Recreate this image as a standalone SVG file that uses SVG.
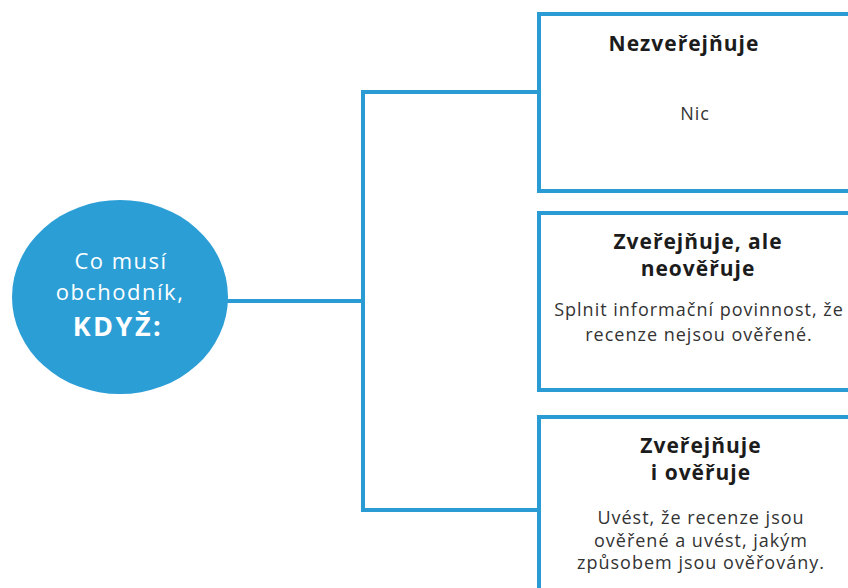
<svg xmlns="http://www.w3.org/2000/svg" width="848" height="588" viewBox="0 0 848 588">
<style>
.box{fill:#ffffff;stroke:#2b9bd3;stroke-width:4}
.conn{fill:none;stroke:#2b9bd3;stroke-width:4}
.t{font-family:"Open Sans","Noto Sans",sans-serif;font-weight:700;font-size:21px;letter-spacing:1px;fill:#1c1c1c;text-anchor:middle}
.b{font-family:"Open Sans","Noto Sans",sans-serif;font-size:18px;letter-spacing:1px;fill:#333333;text-anchor:middle}
.c{font-family:"Open Sans","Noto Sans",sans-serif;font-size:22px;letter-spacing:1.5px;fill:#ffffff;text-anchor:middle}
.k{font-family:"Open Sans","Noto Sans",sans-serif;font-weight:700;font-size:27px;letter-spacing:2.5px;fill:#ffffff;text-anchor:middle}
</style>
<rect width="848" height="588" fill="#ffffff"/>
<g id="connectors">
<path class="conn" d="M226 301 H363"/>
<path class="conn" d="M539 92 H363 V510 H539"/>
</g>
<g id="center">
<ellipse cx="120" cy="297" rx="108" ry="97" fill="#2b9ed6"/>
<text class="c" x="121" y="269">Co musí</text>
<text class="c" x="120" y="300">obchodník,</text>
<text class="k" x="118" y="336">KDYŽ:</text>
</g>
<g id="box1">
<rect class="box" x="539" y="14" width="320" height="177"/>
<text class="t" x="684" y="51">Nezveřejňuje</text>
<text class="b" x="695" y="120">Nic</text>
</g>
<g id="box2">
<rect class="box" x="539" y="213" width="320" height="177"/>
<text class="t" x="698" y="249">Zveřejňuje, ale</text>
<text class="t" x="698" y="276">neověřuje</text>
<text class="b" x="699" y="316">Splnit informační povinnost, že</text>
<text class="b" x="699" y="341">recenze nejsou ověřené.</text>
</g>
<g id="box3">
<rect class="box" x="539" y="417" width="320" height="190"/>
<text class="t" x="701" y="453">Zveřejňuje</text>
<text class="t" x="701" y="480">i ověřuje</text>
<text class="b" x="701" y="524">Uvést, že recenze jsou</text>
<text class="b" x="701" y="547">ověřené a uvést, jakým</text>
<text class="b" x="701" y="569">způsobem jsou ověřovány.</text>
</g>
</svg>
